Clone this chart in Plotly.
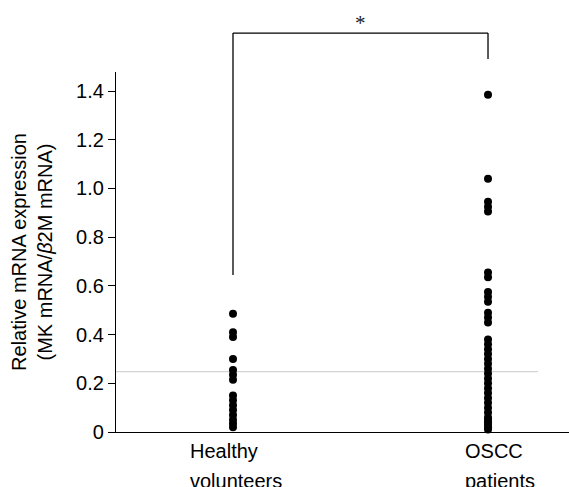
import plotly.graph_objects as go

groups = ["Healthy<br>volunteers", "OSCC<br>patients"]
healthy = [0.485, 0.41, 0.39, 0.30, 0.255, 0.235, 0.215, 0.15, 0.13, 0.11,
           0.09, 0.07, 0.05, 0.035, 0.02]
oscc = [1.385, 1.04, 0.945, 0.925, 0.905, 0.655, 0.635, 0.575, 0.555, 0.535,
        0.49, 0.47, 0.45, 0.38, 0.36, 0.34, 0.32, 0.30, 0.28, 0.26, 0.24, 0.22,
        0.20, 0.18, 0.16, 0.14, 0.12, 0.10, 0.08, 0.06, 0.05, 0.04, 0.03, 0.02, 0.01]
cutoff = 0.2475
y_ticks = [0, 0.2, 0.4, 0.6, 0.8, 1.0, 1.2, 1.4]
y_ticktext = ["0", "0.2", "0.4", "0.6", "0.8", "1.0", "1.2", "1.4"]
sig_label = "*"
bracket_left_bottom = 0.645

FONT = "Liberation Sans, Arial, Helvetica, sans-serif"

fig = go.Figure()
fig.add_trace(go.Scatter(x=[0] * len(healthy), y=healthy, mode="markers",
                         marker=dict(color="black", size=8), showlegend=False,
                         cliponaxis=False, hoverinfo="skip"))
fig.add_trace(go.Scatter(x=[1] * len(oscc), y=oscc, mode="markers",
                         marker=dict(color="black", size=8), showlegend=False,
                         cliponaxis=False, hoverinfo="skip"))

xr = [-0.4588, 1.3176]
yr = [0, 1.478]

fig.add_shape(type="line", xref="x", yref="y", x0=xr[0], x1=1.196, y0=cutoff, y1=cutoff,
              line=dict(color="#d4d4d4", width=1.3), layer="below")


def py(v):
    return v / yr[1]


top = 1.108
fig.add_shape(type="line", xref="x", yref="paper", x0=0, x1=1, y0=top, y1=top,
              line=dict(color="black", width=1.3))
fig.add_shape(type="line", xref="x", yref="paper", x0=0, x1=0, y0=top,
              y1=py(bracket_left_bottom), line=dict(color="black", width=1.3))
fig.add_shape(type="line", xref="x", yref="paper", x0=1, x1=1, y0=top, y1=1.036,
              line=dict(color="black", width=1.3))
fig.add_annotation(x=0.5, xref="x", y=top, yref="paper", text=sig_label,
                   showarrow=False, yanchor="bottom", yshift=-4,
                   font=dict(family="Liberation Serif, Times New Roman, serif", size=21, color="#222"))

label_x = [-0.176, 0.902]
line_gap = 30
for lx, g in zip(label_x, groups):
    for i, part in enumerate(g.split("<br>")):
        fig.add_annotation(x=lx, xref="x", y=0, yref="paper", text=part, showarrow=False,
                           xanchor="left", yanchor="top", align="left",
                           yshift=-6 - i * line_gap,
                           font=dict(family=FONT, size=20, color="black"))

fig.update_layout(
    width=569, height=487,
    margin=dict(l=116, r=0, t=72, b=55),
    paper_bgcolor="white", plot_bgcolor="white",
    font=dict(family=FONT, color="black"),
    xaxis=dict(range=xr, showgrid=False, zeroline=False, showline=True,
               linecolor="black", linewidth=1.3, showticklabels=False, ticks=""),
    yaxis=dict(range=yr, showgrid=False, zeroline=False, showline=True,
               linecolor="black", linewidth=1.3, ticks="outside", ticklen=7,
               tickwidth=1.3, tickcolor="black", tickvals=y_ticks, ticktext=y_ticktext,
               tickfont=dict(size=20, family=FONT),
               title=dict(text="Relative mRNA expression<br>(MK mRNA/<i>β</i>2M mRNA)",
                          font=dict(size=20, family=FONT), standoff=18)),
)

fig.write_html("out.html", config={"displayModeBar": False},
               post_script="document.body.style.margin='0';document.body.style.overflow='hidden';")
